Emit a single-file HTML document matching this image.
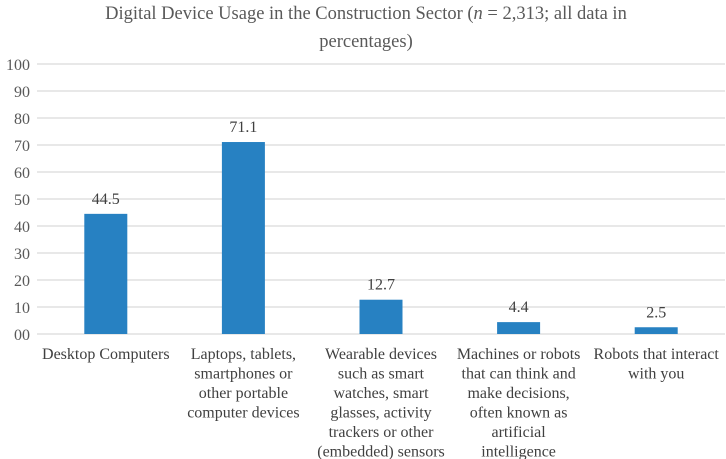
<!DOCTYPE html>
<html><head><meta charset="utf-8"><style>
html,body{margin:0;padding:0;background:#fff;}
svg, svg text{font-family:"Liberation Serif","Times New Roman",serif;}
svg{display:block;}
</style></head><body>
<svg id="chart" width="726" height="459" viewBox="0 0 726 459" font-family="Liberation Serif, serif">
<g fill="#595959" font-size="18.5" text-anchor="middle">
<text x="366" y="19">Digital Device Usage in the Construction Sector (<tspan font-style="italic">n</tspan> = 2,313; all data in</text>
<text x="366" y="47">percentages)</text>
</g>
<g id="grid"></g><g id="bars"></g><g id="labels"></g>
</svg>
<script>
const categories=[["Desktop Computers"],["Laptops, tablets,","smartphones or","other portable","computer devices"],["Wearable devices","such as smart","watches, smart","glasses, activity","trackers or other","(embedded) sensors"],["Machines or robots","that can think and","make decisions,","often known as","artificial","intelligence"],["Robots that interact","with you"]];
const values=[44.5,71.1,12.7,4.4,2.5];
const valueLabels=["44.5","71.1","12.7","4.4","2.5"];
const ticks=[0,10,20,30,40,50,60,70,80,90,100];
const tickLabels=["00","10","20","30","40","50","60","70","80","90","100"];
const NS="http://www.w3.org/2000/svg";
const x0=37,x1=725,yBase=334,yTop=64;
const y=v=>yBase-(v/100)*(yBase-yTop);
const band=(x1-x0)/categories.length;
const xc=i=>x0+band*(i+0.5);
function mk(t,a,p){const e=document.createElementNS(NS,t);for(const k in a)e.setAttribute(k,a[k]);p.appendChild(e);return e;}
const grid=document.getElementById('grid'),bars=document.getElementById('bars'),labels=document.getElementById('labels');
ticks.forEach((t,i)=>{
 const l=mk('line',{x1:x0,x2:x1,y1:y(t),y2:y(t),stroke:'#d9d9d9','stroke-width':1.3},grid);
 
 
 const tx=mk('text',{x:30,y:y(t)+6,'text-anchor':'end','font-size':16,fill:'#595959'},grid);
 tx.textContent=tickLabels[i];
 
 
});
values.forEach((v,i)=>{
 const w=43;
 const r=mk('rect',{x:xc(i)-w/2,y:y(v),width:w,height:yBase-y(v),fill:'#2781c2'},bars);
 
 
 const vl=mk('text',{x:xc(i),y:y(v)-10,'text-anchor':'middle','font-size':16,fill:'#404040'},labels);
 vl.textContent=valueLabels[i];
 
 
 const g=mk('text',{'text-anchor':'middle','font-size':16,fill:'#404040'},labels);
 
 
 categories[i].forEach((s,j)=>{const ts=mk('tspan',{x:xc(i),y:359+j*19.5},g);ts.textContent=s;});
});
</script>
</body></html>
